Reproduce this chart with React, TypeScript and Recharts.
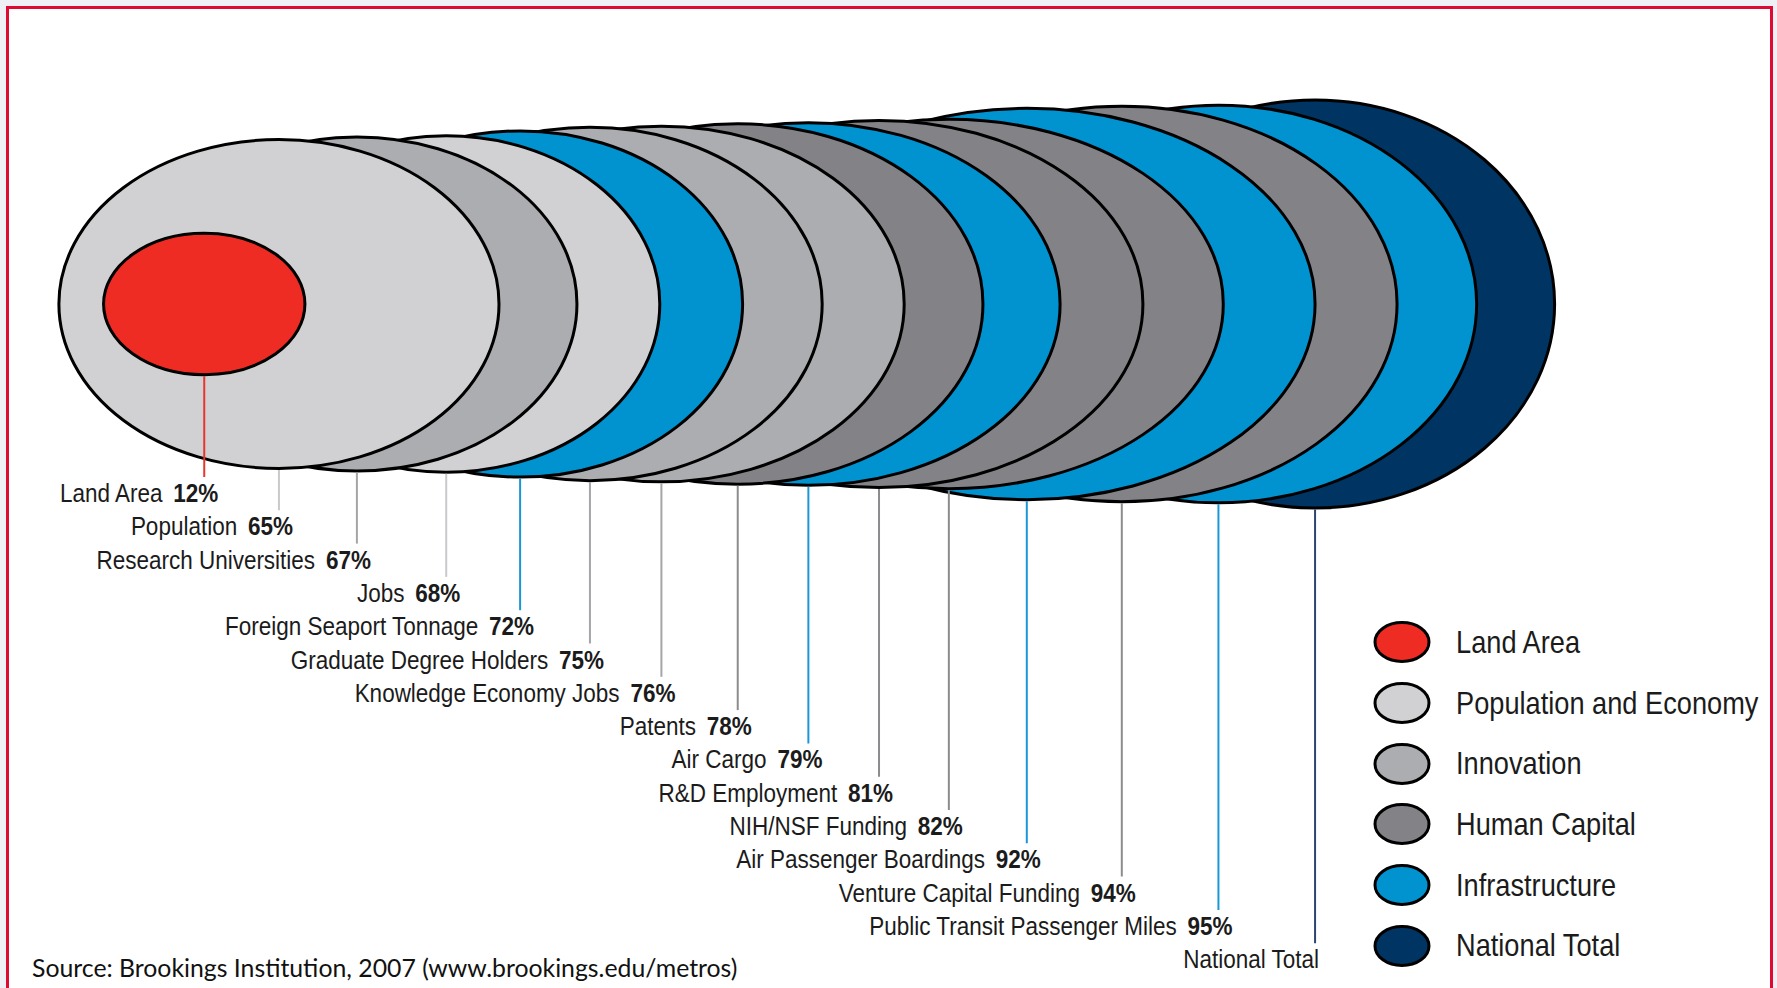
import { ScatterChart, Scatter, XAxis, YAxis, ZAxis, Legend, useXAxisScale } from 'recharts';

// metrics, in the order they are labelled (front disc first)
const metrics = [
  'Land Area', 'Population', 'Research Universities', 'Jobs', 'Foreign Seaport Tonnage',
  'Graduate Degree Holders', 'Knowledge Economy Jobs', 'Patents', 'Air Cargo', 'R&D Employment',
  'NIH/NSF Funding', 'Air Passenger Boardings', 'Venture Capital Funding',
  'Public Transit Passenger Miles', 'National Total',
];
// share of the national total held by the 100 largest metros (%)
const shares = [12, 65, 67, 68, 72, 75, 76, 78, 79, 81, 82, 92, 94, 95, 100];
const shareLabels = ['12%', '65%', '67%', '68%', '72%', '75%', '76%', '78%', '79%', '81%', '82%', '92%', '94%', '95%', ''];
const groups = [
  'Land Area', 'Population and Economy', 'Innovation', 'Population and Economy', 'Infrastructure',
  'Innovation', 'Innovation', 'Human Capital', 'Infrastructure', 'Human Capital',
  'Human Capital', 'Infrastructure', 'Human Capital', 'Infrastructure', 'National Total',
];
// where each disc sits along the strip and how far right it reaches (strip units)
const centres = [-3.63, -2.71, -1.75, -0.65, 0.26, 1.12, 2.0, 2.94, 3.81, 4.68, 5.54, 6.5, 7.67, 8.86, 10.05];
const reaches = [-2.39, 0, 0.96, 1.98, 3.0, 3.98, 4.99, 5.96, 6.91, 7.93, 8.92, 10.05, 11.06, 12.04, 13.0];

const legendGroups = ['Land Area', 'Population and Economy', 'Innovation', 'Human Capital', 'Infrastructure', 'National Total'];

const FILL: Record<string, string> = {
  'Land Area': '#ee2c24',
  'Population and Economy': '#d1d1d3',
  'Innovation': '#acadb0',
  'Human Capital': '#838287',
  'Infrastructure': '#0093d0',
  'National Total': '#003462',
};
const LEADER: Record<string, string> = {
  'Land Area': '#e8352d',
  'Population and Economy': '#c9c9cb',
  'Innovation': '#a4a5a8',
  'Human Capital': '#8c8c8f',
  'Infrastructure': '#1a98d6',
  'National Total': '#2a4670',
};

const W = 1777;
const H = 988;
const MARGIN = { top: 0, right: 60, bottom: 380, left: 93 };
const X_DOMAIN: [number, number] = [-5, 15];
const PX_PER_UNIT = (W - MARGIN.left - MARGIN.right) / (X_DOMAIN[1] - X_DOMAIN[0]);
const R_MAX = 204;
const LABEL_TOP = 493;
const LABEL_STEP = 33.3;
// no condensed face installed, so squeeze Liberation Sans instead
const FONT = "'Liberation Sans', Arial, sans-serif";

const rows = metrics.map((name, i) => ({
  name,
  share: shares[i],
  pct: shareLabels[i],
  group: groups[i],
  centre: centres[i],
  reach: reaches[i],
  row: i,
  y: 0,
}));
// back disc first so the front ones cover it; land area sits on top of everything
const drawOrder = [...rows.slice(1).reverse(), rows[0]];

function Disc(props: any) {
  const { cx, cy, height, size, payload } = props;
  const scale: any = useXAxisScale();
  if (cx == null || cy == null || !payload) return null;
  const ry = height ? height / 2 : Math.sqrt((size || 0) / Math.PI);
  const edge = typeof scale === 'function'
    ? scale(payload.reach)
    : cx + (payload.reach - payload.centre) * PX_PER_UNIT;
  const rx = edge - cx;
  const labelY = LABEL_TOP + payload.row * LABEL_STEP;
  const tx = cx + (payload.pct ? 14 : 4);
  return (
    <g>
      <ellipse cx={cx} cy={cy} rx={rx} ry={ry} fill={FILL[payload.group]} stroke="#000" strokeWidth={3} />
      <line x1={cx} y1={cy + ry + 1.5} x2={cx} y2={labelY - 16} stroke={LEADER[payload.group]} strokeWidth={2} />
      <text
        transform={`translate(${tx} ${labelY + 9}) scale(0.9 1)`}
        textAnchor="end"
        fontFamily={FONT}
        fontSize={25}
        fill="#1b1b1b"
      >
        <tspan>{payload.name}</tspan>
        {payload.pct ? <tspan dx={12} fontWeight="bold">{payload.pct}</tspan> : null}
      </text>
    </g>
  );
}

function LegendBox() {
  return (
    <div style={{ fontFamily: FONT }}>
      {legendGroups.map((g) => (
        <div key={g} style={{ display: 'flex', alignItems: 'center', height: 60.7 }}>
          <svg width={60} height={46} style={{ flexShrink: 0 }}>
            <ellipse cx={30} cy={23} rx={27} ry={19.5} fill={FILL[g]} stroke="#000" strokeWidth={3} />
          </svg>
          <span
            style={{
              display: 'inline-block', marginLeft: 24, fontSize: 32, color: '#1b1b1b', whiteSpace: 'nowrap',
              transform: 'scaleX(0.85)', transformOrigin: 'left center',
            }}
          >
            {g}
          </span>
        </div>
      ))}
    </div>
  );
}

export default function App() {
  return (
    <div style={{ position: 'absolute', left: 0, top: 0, width: W, height: H, background: '#eef0f6', overflow: 'hidden' }}>
      <div
        style={{
          position: 'absolute', left: 6, top: 6, width: 1767, height: 1000,
          border: '3px solid #df0a33', boxSizing: 'border-box', background: '#fff',
        }}
      />
      <div style={{ position: 'absolute', left: 0, top: 0 }}>
        <ScatterChart width={W} height={H} margin={MARGIN}>
          <XAxis type="number" dataKey="centre" domain={X_DOMAIN} hide />
          <YAxis type="number" dataKey="y" domain={[-1, 1]} hide />
          <ZAxis type="number" dataKey="share" domain={[0, 100]} range={[0, Math.PI * R_MAX * R_MAX]} />
          <Legend
            layout="horizontal"
            verticalAlign="middle"
            align="center"
            wrapperStyle={{ left: 1372, top: 612, width: 400 }}
            content={() => <LegendBox />}
          />
          <Scatter data={drawOrder} shape={<Disc />} isAnimationActive={false} />
        </ScatterChart>
      </div>
      <div
        style={{
          position: 'absolute', left: 32, top: 954, fontFamily: 'Lato, sans-serif',
          fontSize: 24.8, lineHeight: '28px', color: '#111', whiteSpace: 'nowrap',
        }}
      >
        Source: Brookings Institution, 2007 (www.brookings.edu/metros)
      </div>
    </div>
  );
}
